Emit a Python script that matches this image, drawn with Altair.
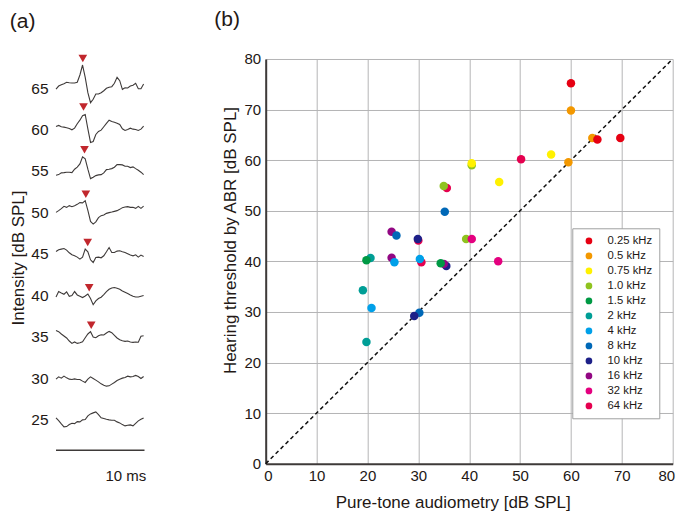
import altair as alt
import pandas as pd

FONT = "Liberation Sans"
TEXT = "#231815"
TRACE_COLOR = "#3e3a39"
MARKER_COLOR = "#c1272d"
GRID_COLOR = "#b5b5b6"

# ---------------- panel (a): ABR waveforms ----------------
TIME_STEP_MS = 0.3
LEVELS_DB = [65, 60, 55, 50, 45, 40, 35, 30, 25]

TRACE_65 = [-1, 2, 3.3, 4.3, 5.7, 5.3, 5, 5, 5.7, 13, 23, 10.7, -4.7, -14.7, -11.3, -6, -6,
            -4.7, -2.7, -0.3, 0.7, 1.3, 4.7, 10.7, 7.3, -1.3, 0.3, 0, 2, 2.7, 4.7, -0.7, -0.7, 4]
TRACE_60 = [3, 4, 2.7, 2.3, 1.7, 1, -0.3, 1.3, 5.7, 9.3, 13.7, 15, 0.5, -13, -12, -5, -2,
            -0.7, 2.7, 6, 9.3, 8, 7.3, 6.3, 5, 0.7, -1, 0, 1.3, 0.3, 0, -1, 0.3, 3.3]
TRACE_55 = [-4.3, -3.7, -2, -1.7, -1.3, -1.3, -1.7, 1.7, 3.7, 7, 14, 12, 1.7, -7.7, -6.3, -4.7,
            -4, -3.7, -2, 1.3, 1.7, 2.3, 3.7, 6.3, 6.3, 6, 4.7, 4.7, 3.3, 4, 2.3, 0.7, -1.3, -3.7]
TRACE_50 = [0, 1.7, 3.7, 6, 5, 6.7, 5.7, 6.7, 8, 9.7, 9.5, 11.7, 2, -9, -11.7, -9.5, -5.3,
            -3.3, -2.7, -1, -0.3, 0.3, 1, 1.7, 3, 4.7, 5.3, 5.7, 5, 5, 4, 6, 4, 6.3]
TRACE_45 = [2.3, 4, 4.7, 5.3, 3.7, 1, -1, -2, -3.3, -5.3, -3.3, 4.7, 2, -6, -8.7, -3.7, -3.3,
            -4, -2, 2, 6.3, 1.3, 1.3, 2.7, 3, 2, 1.3, 0, -1.3, -2, -1, -3.3, -1.3, -2.7]
TRACE_40 = [-1.7, 3.7, 2.3, 1, 3.3, -1, -0.3, 3.7, 0.3, -1, -2.3, -0.7, 1.3, -3.3, -9.5, -5.7,
            -3.3, -2, 0.7, 3.7, 6, 7.3, 7.7, 7, 6, 4.3, 3, 1.7, 0.3, -1, -1.7, -1.7, -1, -0.3]
TRACE_35 = [6.3, 5, 2.7, 0.7, -1.3, -4.3, -6.7, -5.3, -6.7, -6, -5, -1, 2.7, 5, -0.3, -1, 1,
            2, 1.7, 3.7, 5.3, 4, 1.3, -1.3, -3, -4, -4.7, -4.3, -5.3, -5.7, -5.3, -5.5, 0.5, 1]
TRACE_30 = [-1, 1.3, 0, 2, 0.3, -1, -1.3, -0.7, -1.3, -1.3, -3, -4.3, -1, 1.3, -0.3, -2, -3.7,
            -5.7, -7, -8, -7.7, -6, -4.3, -2.3, -1, 0, 0.7, 2, 1.3, 1.7, 2.7, 1.7, -0.3, 1.7]
TRACE_25 = [1.7, -1, -4.3, -7.3, -7, -5, -3.7, -4, -2, -2.3, -0.3, 0, 3.7, 5.7, 6.7, 7.7, 5,
            1.7, 1, 0.3, -0.3, -0.7, -0.7, -2.3, -3.3, -5, -6.3, -5.7, -5.3, -6.3, -3.7, -1.3, 0.3, 1.7]
TRACES = [TRACE_65, TRACE_60, TRACE_55, TRACE_50, TRACE_45, TRACE_40, TRACE_35, TRACE_30, TRACE_25]
AMP_PER_DB = 8.29          # trace amplitude units per dB step on the level axis

WAVE_V_LEVELS = [65, 60, 55, 50, 45, 40, 35]
WAVE_V_LATENCY_MS = [3.03, 3.11, 3.22, 3.37, 3.58, 3.75, 3.98]
WAVE_V_AMPLITUDE = [23, 16, 14.7, 11.7, 4.7, 1, 5]
MARKER_GAP = 6.5

SCALE_BAR_MS = [0, 10]
SCALE_BAR_LEVEL = 21.3
SCALE_LABEL = "10 ms"
SCALE_LABEL_POS = [7.9, 18.2]

# ---------------- panel (b): thresholds ----------------
FREQS = ["0.25 kHz", "0.5 kHz", "0.75 kHz", "1.0 kHz", "1.5 kHz", "2 kHz",
         "4 kHz", "8 kHz", "10 kHz", "16 kHz", "32 kHz", "64 kHz"]
FREQ_COLORS = ["#e60012", "#f39800", "#fff100", "#8fc31f", "#009944", "#009e96",
               "#00a0e9", "#0068b7", "#1d2088", "#920783", "#e4007f", "#e5004f"]

POINT_FREQ = ["64 kHz", "1.0 kHz", "1.0 kHz", "0.75 kHz", "0.5 kHz", "0.25 kHz",
              "0.25 kHz", "0.25 kHz", "0.5 kHz", "0.5 kHz", "0.75 kHz", "0.75 kHz",
              "64 kHz", "64 kHz", "10 kHz", "16 kHz", "8 kHz", "16 kHz", "4 kHz",
              "2 kHz", "1.5 kHz", "64 kHz", "4 kHz", "10 kHz", "16 kHz", "1.5 kHz",
              "2 kHz", "4 kHz", "2 kHz", "8 kHz", "10 kHz", "8 kHz", "1.0 kHz",
              "32 kHz", "32 kHz"]
POINT_PTA = [35.6, 35.0, 40.5, 40.5, 64.2, 65.2,
             60.0, 69.7, 60.0, 59.5, 56.1, 45.9,
             50.2, 30.0, 29.9, 24.75, 25.7, 24.75, 25.3,
             20.6, 19.8, 30.6, 30.3, 35.5, 35.0, 34.4,
             19.1, 20.8, 19.8, 30.2, 29.2, 35.2, 39.4,
             40.5, 45.7]
POINT_ABR = [54.5, 54.9, 59.0, 59.4, 64.4, 64.1,
             75.2, 64.4, 69.8, 59.6, 61.1, 55.7,
             60.2, 44.1, 44.4, 45.85, 45.1, 40.7, 39.8,
             40.65, 40.2, 39.8, 40.45, 39.1, 39.5, 39.6,
             34.3, 30.8, 24.05, 29.85, 29.2, 49.8, 44.4,
             44.4, 40.0]
DIAGONAL = [0, 80]
AXIS_TICKS = list(range(0, 81, 10))

# ---------------- build panel (a) ----------------
rows = []
for level, amps in zip(LEVELS_DB, TRACES):
    for i, a in enumerate(amps):
        rows.append({"level": level, "t": round(i * TIME_STEP_MS, 3), "y": level + a / AMP_PER_DB})
trace_df = pd.DataFrame(rows)

tri_df = pd.DataFrame({
    "t": WAVE_V_LATENCY_MS,
    "y": [lv + (amp + MARKER_GAP) / AMP_PER_DB for lv, amp in zip(WAVE_V_LEVELS, WAVE_V_AMPLITUDE)],
})
bar_df = pd.DataFrame({"t": [SCALE_BAR_MS[0]], "t2": [SCALE_BAR_MS[1]], "y": [SCALE_BAR_LEVEL]})
lab_df = pd.DataFrame({"t": [SCALE_LABEL_POS[0]], "y": [SCALE_LABEL_POS[1]], "label": [SCALE_LABEL]})

xa = alt.Scale(domain=[0, 10], nice=False, zero=False)
ya = alt.Scale(domain=[19.68, 68.5], nice=False, zero=False)
ya_axis = alt.Axis(values=LEVELS_DB, domain=False, ticks=False, grid=False,
                   labelFontSize=15.5, labelPadding=8, labelColor=TEXT,
                   title="Intensity [dB SPL]", titleFontSize=17, titleFontWeight="normal",
                   titleColor=TEXT, titlePadding=3, titleY=198.5)


def ya_enc():
    return alt.Y("y:Q", scale=ya, axis=ya_axis)


def xa_enc(field="t"):
    return alt.X(f"{field}:Q", scale=xa, axis=None)


traces = alt.Chart(trace_df).mark_line(color=TRACE_COLOR, strokeWidth=1.1).encode(
    x=xa_enc(), y=ya_enc(), detail="level:N")
tris = alt.Chart(tri_df).mark_point(shape="triangle-down", filled=True, size=75,
                                    color=MARKER_COLOR, opacity=1).encode(x=xa_enc(), y=ya_enc())
bar = alt.Chart(bar_df).mark_rule(color=TRACE_COLOR, strokeWidth=1.3).encode(
    x=xa_enc(), x2="t2:Q", y=ya_enc())
lab = alt.Chart(lab_df).mark_text(fontSize=15, color=TEXT, baseline="middle").encode(
    x=xa_enc(), y=ya_enc(), text="label:N")

panel_a = alt.layer(traces, tris, bar, lab).properties(
    width=88.5, height=404.7,
    title=alt.TitleParams("(a)", anchor="start", frame="bounds", fontSize=21,
                          fontWeight="normal", color=TEXT, offset=22.4),
)

# ---------------- build panel (b) ----------------
pts_df = pd.DataFrame({"freq": POINT_FREQ, "pta": POINT_PTA, "abr": POINT_ABR,
                       "order": list(range(len(POINT_FREQ)))})
diag_df = pd.DataFrame({"v": DIAGONAL})

xb = alt.Scale(domain=[0, 80], nice=False, zero=False)
yb = alt.Scale(domain=[0, 80], nice=False, zero=False)
common_axis = dict(values=AXIS_TICKS, grid=True, gridColor=GRID_COLOR, gridWidth=1,
                   domainColor=TRACE_COLOR, domainWidth=2, ticks=False,
                   labelFontSize=15, labelPadding=5, labelColor=TEXT,
                   titleFontSize=17, titleFontWeight="normal", titleColor=TEXT)
xb_axis = alt.Axis(title="Pure-tone audiometry [dB SPL]", titlePadding=11, titleX=187,
                   labelFlush=True, labelFlushOffset=2, **common_axis)
yb_axis = alt.Axis(title="Hearing threshold by ABR [dB SPL]", titlePadding=4.7, titleY=181, **common_axis)

diag = alt.Chart(diag_df).mark_line(color="#111111", strokeWidth=1.5, strokeDash=[4, 3]).encode(
    x=alt.X("v:Q", scale=xb, axis=xb_axis), y=alt.Y("v:Q", scale=yb, axis=yb_axis))
pts = alt.Chart(pts_df).mark_circle(size=72, opacity=1).encode(
    x=alt.X("pta:Q", scale=xb, axis=xb_axis),
    y=alt.Y("abr:Q", scale=yb, axis=yb_axis),
    color=alt.Color("freq:N", scale=alt.Scale(domain=FREQS, range=FREQ_COLORS),
                    legend=alt.Legend(orient="none", legendX=306.6, legendY=169.3, title=None,
                                      strokeColor="#9fa0a0", fillColor="white", padding=7,
                                      symbolType="circle", symbolSize=45, symbolStrokeWidth=0,
                                      symbolOffset=4, labelFontSize=11.3, labelColor=TEXT,
                                      labelOffset=13, rowPadding=3)),
    order="order:Q",
)

panel_b = alt.layer(diag, pts).properties(
    width=407, height=404.7,
    title=alt.TitleParams("(b)", anchor="start", frame="bounds", fontSize=21,
                          fontWeight="normal", color=TEXT, offset=22.4, dx=-7),
)

chart = alt.hconcat(panel_a, panel_b, spacing=66.7).resolve_scale(
    color="independent").resolve_legend(color="independent").properties(
    padding={"left": 1, "top": 0, "right": 0, "bottom": 6}).configure(
    font=FONT).configure_view(strokeWidth=0)

chart.save("out.html", embed_options={"renderer": "svg", "actions": False})
